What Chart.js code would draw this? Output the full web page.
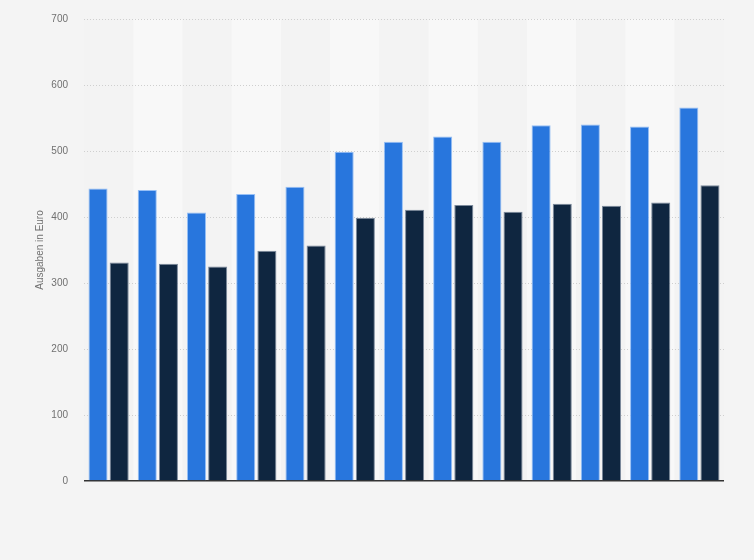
<!DOCTYPE html>
<html>
<head>
<meta charset="utf-8">
<script src="https://cdn.jsdelivr.net/npm/chart.js@4/dist/chart.umd.min.js"></script>
<style>
  html, body { margin: 0; padding: 0; background: #f4f4f4; }
  #wrap { width: 754px; height: 560px; position: relative; }
</style>
</head>
<body>
<div id="wrap"><canvas id="c" width="754" height="560"></canvas></div>
<script>
const categories = ['1','2','3','4','5','6','7','8','9','10','11','12','13'];
const seriesA = [443, 441, 407, 435, 446, 499, 514, 522, 514, 539, 540, 537, 566];
const seriesB = [331, 329, 325, 349, 357, 399, 411, 418, 408, 420, 417, 422, 448];
const yTicks = [0, 100, 200, 300, 400, 500, 600, 700];
const yTitle = 'Ausgaben in Euro';

const bandsPlugin = {
  id: 'bands',
  beforeDraw(chart) {
    const {ctx, chartArea, scales} = chart;
    const x = scales.x;
    const w = (chartArea.right - chartArea.left) / categories.length;
    ctx.save();
    categories.forEach((c, i) => {
      const cx = x.getPixelForValue(i);
      ctx.fillStyle = (i % 2 === 1) ? '#f8f8f8' : '#f3f3f3';
      ctx.fillRect(cx - w / 2, chartArea.top, w, chartArea.bottom - chartArea.top);
    });
    ctx.restore();
  }
};

new Chart(document.getElementById('c'), {
  type: 'bar',
  data: {
    labels: categories,
    datasets: [
      { label: 'A', data: seriesA, backgroundColor: '#2876dd', borderColor: 'rgba(140,185,245,0.9)', borderWidth: 1, categoryPercentage: 0.86, barPercentage: 0.9 },
      { label: 'B', data: seriesB, backgroundColor: '#0f2640', borderColor: 'rgba(110,125,145,0.9)', borderWidth: 1, categoryPercentage: 0.86, barPercentage: 0.9 }
    ]
  },
  options: {
    responsive: false,
    animation: false,
    devicePixelRatio: 1,
    layout: { padding: { left: 0, right: 30, top: 19, bottom: 79 } },
    plugins: { legend: { display: false }, tooltip: { enabled: false } },
    scales: {
      x: { display: false },
      y: {
        min: 0, max: 700,
        afterBuildTicks(scale) { scale.ticks = yTicks.map(v => ({ value: v })); },
        afterFit(scale) { scale.width = 84; scale.paddingTop = 0; scale.paddingBottom = 0; },
        ticks: { stepSize: 100, color: '#707070', font: { family: 'Arial, Liberation Sans, sans-serif', size: 10 }, padding: 16 },
        grid: {
          drawTicks: false,
          color: ctx => ctx.tick && ctx.tick.value === 0 ? '#333' : '#cfcfcf',
          lineWidth: ctx => ctx.tick && ctx.tick.value === 0 ? 1.5 : 1
        },
        border: { display: false, dash: ctx => ctx.tick && ctx.tick.value === 0 ? [] : [1, 2] },
        title: { display: true, text: yTitle, color: '#707070', font: { family: 'Arial, Liberation Sans, sans-serif', size: 10 }, padding: { top: 34, bottom: 0 } }
      }
    }
  },
  plugins: [bandsPlugin]
});
</script>
</body>
</html>
